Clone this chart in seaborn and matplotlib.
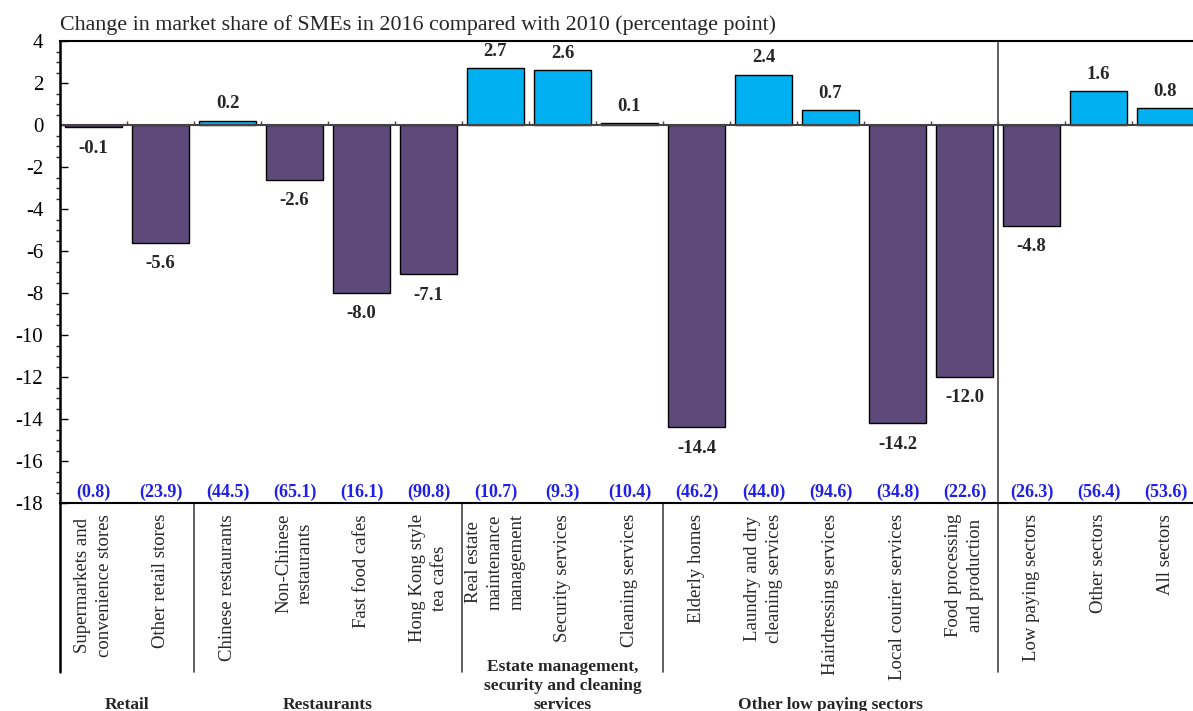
import numpy as np
import pandas as pd
import matplotlib
matplotlib.use("Agg")
import matplotlib.pyplot as plt
import seaborn as sns
from matplotlib.ticker import MultipleLocator

# Sectors (x axis), change in SME market share 2016 vs 2010 (pp),
# and SME market share in 2016 (%, shown in brackets)
categories = [
    "Supermarkets and\nconvenience stores", "Other retail stores",
    "Chinese restaurants", "Non-Chinese\nrestaurants", "Fast food cafes",
    "Hong Kong style\ntea cafes", "Real estate\nmaintenance\nmanagement",
    "Security services", "Cleaning services", "Elderly homes",
    "Laundry and dry\ncleaning services", "Hairdressing services",
    "Local courier services", "Food processing\nand production",
    "Low paying sectors", "Other sectors", "All sectors",
]
change = [-0.1, -5.6, 0.2, -2.6, -8.0, -7.1, 2.7, 2.6, 0.1,
          -14.4, 2.4, 0.7, -14.2, -12.0, -4.8, 1.6, 0.8]
sme_share_2016 = [0.8, 23.9, 44.5, 65.1, 16.1, 90.8, 10.7, 9.3, 10.4,
                  46.2, 44.0, 94.6, 34.8, 22.6, 26.3, 56.4, 53.6]
groups = ["Retail", "Restaurants",
          "Estate management,\nsecurity and cleaning\nservices",
          "Other low paying sectors", ""]
group_sizes = [2, 4, 3, 5, 3]

PURPLE = "#5E4A7A"
CYAN = "#00B0F0"
BLUE = "#1F1FE8"

sns.set_style("white")
plt.rcParams["font.family"] = ["Liberation Serif", "DejaVu Serif"]
plt.rcParams["axes.unicode_minus"] = False

df = pd.DataFrame({"sector": categories, "change": change,
                   "sign": ["neg" if v < 0 else "pos" for v in change]})

W, H = 1193, 711
fig = plt.figure(figsize=(W / 100, H / 100), dpi=100)
ax = fig.add_axes([60 / W, 1 - 503 / H, 1139 / W, 462 / H])

sns.barplot(data=df, x="sector", y="change", hue="sign",
            palette={"neg": PURPLE, "pos": CYAN}, saturation=1, dodge=False,
            width=0.85, edgecolor="black", linewidth=1.0, legend=False, ax=ax)

n = len(categories)
ax.set_xlim(-0.5, n - 0.5)
ax.set_ylim(-18, 4)
ax.set_xlabel("")
ax.set_ylabel("")

# y axis: major every 2, minor every 0.5
ax.yaxis.set_major_locator(MultipleLocator(2))
ax.yaxis.set_minor_locator(MultipleLocator(0.5))
ax.tick_params(axis="y", which="major", left=True, direction="in",
               length=6, width=1, labelsize=15, pad=12, colors="black")
ax.tick_params(axis="y", which="minor", left=True, direction="out",
               length=3, width=1)

# x axis: rotated sector names below the plot
ax.tick_params(axis="x", bottom=False, length=0, pad=8, labelsize=13.5)
ax.set_xticks(range(n))
ax.set_xticklabels(categories, rotation=90, ha="center", va="top")
for lbl in ax.get_xticklabels():
    lbl.set_multialignment("center")
    lbl.set_linespacing(1.35)

for side in ["top", "left", "bottom"]:
    ax.spines[side].set_visible(True)
    ax.spines[side].set_color("black")
ax.spines["top"].set_linewidth(1.5)
ax.spines["bottom"].set_linewidth(1.5)
ax.spines["left"].set_linewidth(1.8)
ax.spines["right"].set_visible(False)

# zero line with small ticks at bar boundaries
ax.axhline(0, color="#444444", linewidth=1.5, zorder=1)
ax.vlines(np.arange(0.5, n - 0.5), 0, 0.2, color="#444444", linewidth=1, zorder=1)

# value labels
for i, v in enumerate(change):
    if v >= 0:
        ax.annotate(f"{v:.1f}", (i, v), xytext=(0, 6), textcoords="offset points",
                    ha="center", va="bottom", fontsize=13.5, fontweight="bold")
    else:
        ax.annotate(f"{v:.1f}", (i, v), xytext=(0, -9), textcoords="offset points",
                    ha="center", va="top", fontsize=13.5, fontweight="bold")

# bracketed 2016 shares along the bottom
for i, s in enumerate(sme_share_2016):
    ax.text(i, -17.5, f"({s:.1f})", ha="center", va="center",
            fontsize=13, fontweight="bold", color=BLUE)

# group separators and group names
xt = ax.get_xaxis_transform()
sep_bottom = -0.366
ax.plot([-0.5, -0.5], [sep_bottom, 0], transform=xt, color="black",
        linewidth=1.8, clip_on=False)
edges = np.cumsum(group_sizes) - 0.5
starts = np.concatenate([[-0.5], edges[:-1]])
for k, e in enumerate(edges[:-1]):
    top = 1 if k == len(edges) - 2 else 0
    ax.plot([e, e], [sep_bottom, top], transform=xt, color="#444444",
            linewidth=1.2, clip_on=False)
for g, s0, e in zip(groups, starts, edges):
    if not g:
        continue
    nlines = g.count("\n") + 1
    yc = -0.4375 + (nlines - 1) * 0.0205
    ax.text((s0 + e) / 2, yc, g, transform=xt, ha="center", va="center",
            fontsize=12.5, fontweight="bold", linespacing=1.25)

fig.text(60 / W, 1 - 30 / H,
         "Change in market share of SMEs in 2016 compared with 2010 (percentage point)",
         ha="left", va="baseline", fontsize=15.8)

fig.savefig("out.png", dpi=100)
